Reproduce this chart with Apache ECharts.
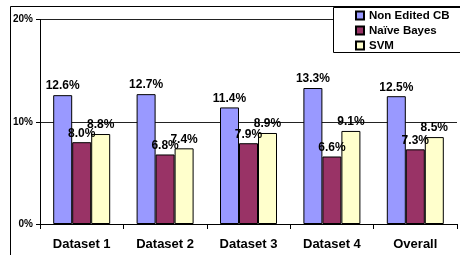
<!DOCTYPE html>
<html>
<head>
<meta charset="utf-8">
<script src="https://cdn.jsdelivr.net/npm/echarts@6/dist/echarts.min.js"></script>
<style>
  html, body { margin: 0; padding: 0; background: #fff; }
  #chart { width: 460px; height: 255px; }
</style>
</head>
<body>
<div id="chart"></div>
<script>
// data
const categories = ["Dataset 1", "Dataset 2", "Dataset 3", "Dataset 4", "Overall"]
const nonEditedCB = [12.6, 12.7, 11.4, 13.3, 12.5]
const naiveBayes = [8.0, 6.8, 7.9, 6.6, 7.3]
const svm = [8.8, 7.4, 8.9, 9.1, 8.5]
const seriesNames = ["Non Edited CB", "Naïve Bayes", "SVM"]

const font = "Liberation Sans, Arial, sans-serif"

const makeSeries = (name, data, color) => ({
  name: name,
  type: "bar",
  data: data,
  barWidth: 19,
  barGap: "0%",
  itemStyle: { color: color, borderColor: "#000", borderWidth: 1 },
  label: {
    show: true,
    position: "top",
    distance: 3,
    fontFamily: font,
    fontWeight: "bold",
    fontSize: 12,
    color: "#000",
    formatter: (p) => p.value.toFixed(1) + "%"
  }
})

const chart = echarts.init(document.getElementById("chart"))
chart.setOption({
  animation: false,
  grid: { left: 40, right: 3, top: 19.5, bottom: 31 },
  graphic: [
    {
      type: "rect",
      shape: { x: 10.5, y: 6.5, width: 470, height: 270 },
      style: { fill: "none", stroke: "#000", lineWidth: 1 },
      z: 0
    },
    {
      type: "rect",
      shape: { x: 333.5, y: 7.5, width: 140, height: 45 },
      style: { fill: "#fff", stroke: "#000", lineWidth: 1 },
      z: 10
    }
  ],
  legend: {
    orient: "vertical",
    left: 355,
    top: 9,
    padding: 0,
    itemWidth: 8,
    itemHeight: 8,
    itemGap: 2,
    icon: "rect",
    z: 20,
    textStyle: {
      fontFamily: font,
      fontWeight: "bold",
      fontSize: 11.5,
      lineHeight: 13,
      color: "#000"
    },
    data: seriesNames
  },
  xAxis: {
    type: "category",
    data: categories,
    axisLine: { lineStyle: { color: "#000", width: 1 } },
    axisTick: { show: true, length: 5, lineStyle: { color: "#000" } },
    axisLabel: {
      margin: 14,
      fontFamily: font,
      fontWeight: "bold",
      fontSize: 13,
      color: "#000"
    }
  },
  yAxis: {
    type: "value",
    min: 0,
    max: 20,
    interval: 10,
    axisLine: { show: true, lineStyle: { color: "#000", width: 1 } },
    axisTick: { show: true, length: 4, lineStyle: { color: "#000" } },
    splitLine: { lineStyle: { color: "#222", width: 1 } },
    axisLabel: {
      margin: 7,
      fontFamily: font,
      fontWeight: "bold",
      fontSize: 10,
      color: "#000",
      formatter: "{value}%"
    }
  },
  series: [
    makeSeries(seriesNames[0], nonEditedCB, "#9999ff"),
    makeSeries(seriesNames[1], naiveBayes, "#993366"),
    makeSeries(seriesNames[2], svm, "#ffffcc")
  ]
})
</script>
</body>
</html>
